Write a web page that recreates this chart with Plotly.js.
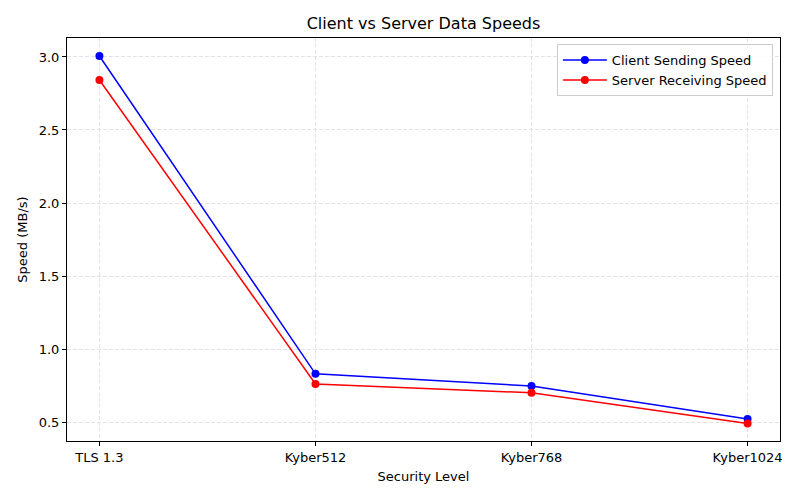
<!DOCTYPE html>
<html><head><meta charset="utf-8">
<script src="https://cdn.plot.ly/plotly-3.0.1.min.js"></script>
<style>body{margin:0;padding:0;background:#fff}</style>
</head><body>
<div id="chart" style="width:800px;height:500px"></div>
<script>
const categories = ["TLS 1.3", "Kyber512", "Kyber768", "Kyber1024"];
const clientSpeed = [3.007, 0.83, 0.747, 0.52];
const serverSpeed = [2.842, 0.76, 0.70, 0.49];
const yTicks = [0.5, 1.0, 1.5, 2.0, 2.5, 3.0];

const xIdx = categories.map((_, i) => i);
const traces = [
  {x: xIdx, y: clientSpeed, name: "Client Sending Speed", mode: "lines+markers",
   line: {color: "blue", width: 1.5}, marker: {color: "blue", size: 8}},
  {x: xIdx, y: serverSpeed, name: "Server Receiving Speed", mode: "lines+markers",
   line: {color: "red", width: 1.5}, marker: {color: "red", size: 8}}
];
const gridStyle = {showgrid: true, gridcolor: "#dcdcdc", griddash: "4px,2px", gridwidth: 0.8};
const layout = {
  width: 800, height: 500,
  font: {family: "DejaVu Sans", size: 13, color: "black"},
  paper_bgcolor: "white", plot_bgcolor: "white",
  margin: {l: 67, r: 20, t: 38, b: 59},
  title: {text: "Client vs Server Data Speeds", font: {size: 16}, xref: "paper", x: 0.5, xanchor: "center",
          yref: "container", y: 0.954, yanchor: "middle"},
  showlegend: true,
  legend: {x: 0.99, xanchor: "right", y: 0.985, yanchor: "top", bordercolor: "#cccccc", borderwidth: 1,
           bgcolor: "rgba(255,255,255,0.8)", font: {size: 13}, tracegroupgap: 2, itemwidth: 44},
  xaxis: Object.assign({
    tickmode: "array", tickvals: xIdx, ticktext: categories, range: [-0.15, 3.15],
    showline: true, mirror: true, linecolor: "black", linewidth: 1,
    ticks: "outside", ticklen: 4, tickcolor: "black", zeroline: false,
    title: {text: "Security Level", font: {size: 13}, standoff: 8}
  }, gridStyle),
  yaxis: Object.assign({
    tickmode: "array", tickvals: yTicks, ticktext: yTicks.map(v => v.toFixed(1)), range: [0.37, 3.13],
    showline: true, mirror: true, linecolor: "black", linewidth: 1,
    ticks: "outside", ticklen: 4, tickcolor: "black", zeroline: false,
    title: {text: "Speed (MB/s)", font: {size: 13}, standoff: 8}
  }, gridStyle)
};
Plotly.newPlot("chart", traces, layout, {displayModeBar: false, staticPlot: true});
</script>
</body></html>
